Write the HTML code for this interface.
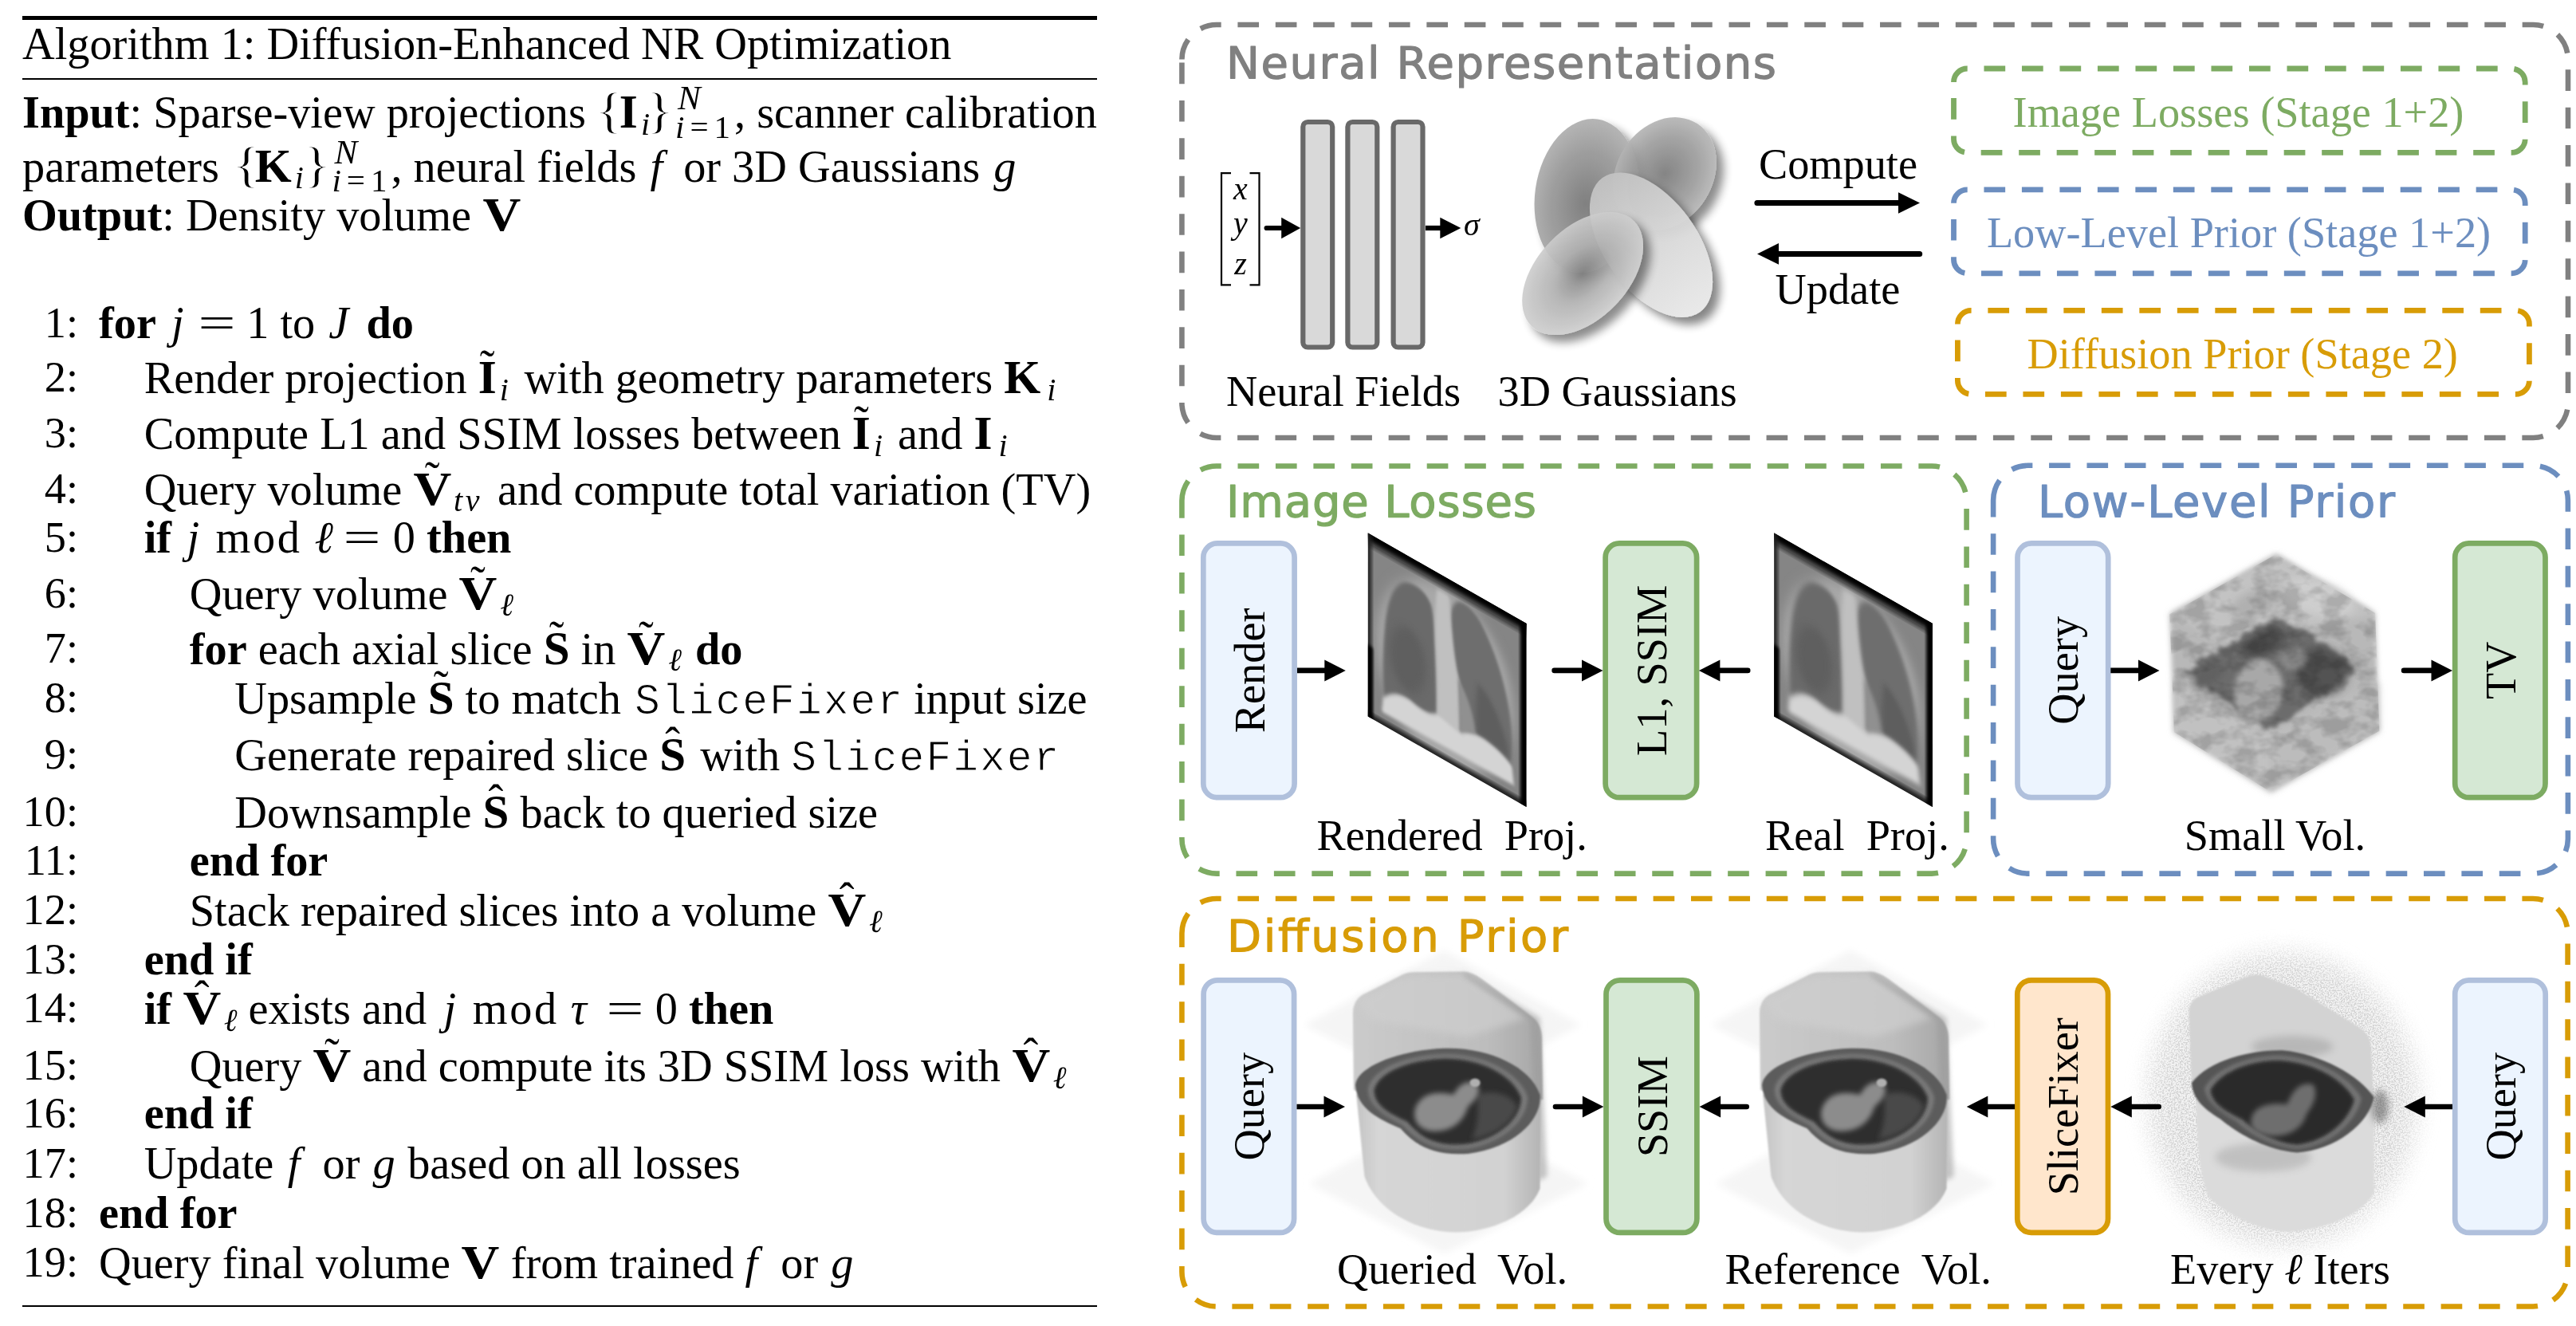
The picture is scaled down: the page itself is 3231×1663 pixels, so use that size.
<!DOCTYPE html>
<html lang="en">
<head>
<meta charset="utf-8">
<title>Algorithm 1: Diffusion-Enhanced NR Optimization</title>
<style>
html,body{margin:0;padding:0;background:#fff;}
body{width:3231px;height:1663px;position:relative;overflow:hidden;font-family:"Liberation Serif",serif;color:#000;}
.rule{position:absolute;left:28px;width:1348px;background:#000;}
.l{position:absolute;left:0;top:calc(var(--b)*1px - 49px);height:60px;line-height:60px;font-size:56.3px;white-space:nowrap;}
.l .n{position:absolute;left:0;width:98px;text-align:right;font-size:54.3px;}
.l .t{position:absolute;left:124px;}
.l .t.i1{left:180.7px;}
.l .t.i2{left:237.8px;}
.l .t.i3{left:294.3px;}
.sb{font-size:40px;position:relative;top:8.5px;font-style:italic;margin-left:4px;}
.br{display:inline-block;font-size:1.12em;transform:scaleX(1.3);transform-origin:37% 62%;margin:0 -1.65px;-webkit-text-stroke:1.5px #fff;}
.br.r{transform-origin:63% 62%;}
.bv{display:inline-block;font-weight:bold;font-size:1.05em;transform:scaleX(1.12);margin:0 2.5px;}
.md{letter-spacing:2.6px;}
.bm{font-weight:bold;font-size:1.05em;}
.eq{display:inline-block;transform:scaleX(1.48);}
.v{font-style:italic;}
#algo{position:absolute;left:0;top:0;width:1400px;height:1663px;filter:grayscale(1);}
.ac{position:relative;display:inline-block;}
.ac .a{position:absolute;left:0;right:0;text-align:center;top:-14px;font-weight:normal;font-style:normal;}
.tt{font-family:"Liberation Mono",monospace;font-size:53px;letter-spacing:2px;-webkit-text-stroke:1px #fff;}
.ss{display:inline-block;position:relative;width:79px;height:60px;vertical-align:top;font-size:41px;}
.ss .u{position:absolute;left:8px;top:-15.7px;font-style:italic;font-size:43px;}
.ss .d{position:absolute;left:5px;top:19.6px;letter-spacing:7px;}
.m{letter-spacing:0;}
#fig{position:absolute;left:0;top:0;}
</style>
</head>
<body>
<div id="algo">
<div class="rule" style="top:20.2px;height:4.5px"></div>
<div class="rule" style="top:97.5px;height:2.7px"></div>
<div class="rule" style="top:1636.8px;height:2.7px"></div>

<div class="l" style="--b:74"><span class="t" style="left:28px">Algorithm 1: Diffusion-Enhanced NR Optimization</span></div>
<div class="l" style="--b:158"><span class="t" style="left:28px"><b>Input</b>: Sparse-view projections <span class="br" style="margin:0 -1.65px 0 -0.65px">{</span><b class="bm">I</b><span class="sb">i</span><span class="br r" style="margin:0 -1.65px 0 -1.65px">}</span><span class="ss"><span class="u">N</span><span class="d"><i>i</i>=1</span></span>, scanner calibration</span></div>
<div class="l" style="--b:225.5"><span class="t" style="left:28px">parameters <span class="br" style="margin:0 -3.15px 0 3.55px">{</span><b class="bm">K</b><span class="sb" style="margin-left:4px;margin-right:3.6px">i</span><span class="br r" style="margin:0 -1.65px 0 -1.65px">}</span><span class="ss"><span class="u">N</span><span class="d"><i>i</i>=1</span></span>, neural fields <span class="v" style="margin:0 12px 0 3px">f</span> or 3D Gaussians <span class="v" style="margin:0 0px 0 3px">g</span></span></div>
<div class="l" style="--b:288"><span class="t" style="left:28px"><b>Output</b>: Density volume <b class="bv">V</b></span></div>
<div class="l" style="--b:424"><span class="n">1:</span><span class="t"><b>for</b> <span class="v" style="margin:0 0px 0 5px">j</span><span class="eq" style="margin:0 21.2px 0 25.7px">=</span>1 to <span class="v" style="margin:0 8px 0 3px">J</span> <b>do</b></span></div>
<div class="l" style="--b:492"><span class="n">2:</span><span class="t i1">Render projection <span class="ac"><b class="bm">I</b><span class="a">˜</span></span><span class="sb" style="margin-left:4px;margin-right:5.6px">i</span> with geometry parameters <b class="bm">K</b><span class="sb" style="margin-left:8px">i</span></span></div>
<div class="l" style="--b:562.4"><span class="n">3:</span><span class="t i1">Compute L1 and SSIM losses between <span class="ac"><b class="bm">I</b><span class="a">˜</span></span><span class="sb" style="margin-left:4px;margin-right:5px">i</span> and <b class="bm">I</b><span class="sb" style="margin-left:8px">i</span></span></div>
<div class="l" style="--b:631.7"><span class="n">4:</span><span class="t i1">Query volume <span class="ac"><b class="bv">V</b><span class="a">˜</span></span><span class="sb" style="margin-left:3px;margin-right:5px;letter-spacing:3.5px">tv</span> and compute total variation (TV)</span></div>
<div class="l" style="--b:693"><span class="n">5:</span><span class="t i1"><b>if</b> <span class="v" style="margin:0 6.4px 0 5.3px">j</span> <span class="md">mod</span> <span class="v" style="margin:0 0px 0 2px">ℓ</span><span class="eq" style="margin:0 22.8px 0 20.3px">=</span>0 <b>then</b></span></div>
<div class="l" style="--b:762.5"><span class="n">6:</span><span class="t i2">Query volume <span class="ac"><b class="bv">V</b><span class="a">˜</span></span><span class="sb" style="margin-left:4px">ℓ</span></span></div>
<div class="l" style="--b:831.8"><span class="n">7:</span><span class="t i2"><b>for</b> each axial slice <span class="ac"><b class="bm">S</b><span class="a">˜</span></span> in <span class="ac"><b class="bv">V</b><span class="a">˜</span></span><span class="sb" style="margin-left:4px;margin-right:3px">ℓ</span> <b>do</b></span></div>
<div class="l" style="--b:893.5"><span class="n">8:</span><span class="t i3">Upsample <span class="ac"><b class="bm">S</b><span class="a">˜</span></span> to match <span class="tt" style="margin:0 -2px 0 3px">SliceFixer</span> input size</span></div>
<div class="l" style="--b:965"><span class="n">9:</span><span class="t i3">Generate repaired slice <span class="ac" style="margin:0 4px 0 0px"><b class="bm">S</b><span class="a">ˆ</span></span> with <span class="tt">SliceFixer</span></span></div>
<div class="l" style="--b:1037"><span class="n">10:</span><span class="t i3">Downsample <span class="ac"><b class="bm">S</b><span class="a">ˆ</span></span> back to queried size</span></div>
<div class="l" style="--b:1098.4"><span class="n">11:</span><span class="t i2"><b>end for</b></span></div>
<div class="l" style="--b:1159.6"><span class="n">12:</span><span class="t i2">Stack repaired slices into a volume <span class="ac"><b class="bv">V</b><span class="a">ˆ</span></span><span class="sb" style="margin-left:4px">ℓ</span></span></div>
<div class="l" style="--b:1221.5"><span class="n">13:</span><span class="t i1"><b>end if</b></span></div>
<div class="l" style="--b:1283"><span class="n">14:</span><span class="t i1"><b>if</b> <span class="ac"><b class="bv">V</b><span class="a">ˆ</span></span><span class="sb" style="margin-left:4px">ℓ</span> exists and <span class="v" style="margin:0 6.5px 0 7.3px">j</span> <span class="md">mod</span> <span class="v" style="margin:0 7px 0 1px">τ</span><span class="eq" style="margin:0 21.7px 0 25.3px">=</span>0 <b>then</b></span></div>
<div class="l" style="--b:1355"><span class="n">15:</span><span class="t i2">Query <span class="ac"><b class="bv">V</b><span class="a">˜</span></span> and compute its 3D SSIM loss with <span class="ac"><b class="bv">V</b><span class="a">ˆ</span></span><span class="sb" style="margin-left:4px">ℓ</span></span></div>
<div class="l" style="--b:1415"><span class="n">16:</span><span class="t i1"><b>end if</b></span></div>
<div class="l" style="--b:1477.8"><span class="n">17:</span><span class="t i1">Update <span class="v" style="margin:0 14.1px 0 3.4px">f</span> or <span class="v" style="margin:0 1.4px 0 2px">g</span> based on all losses</span></div>
<div class="l" style="--b:1540"><span class="n">18:</span><span class="t"><b>end for</b></span></div>
<div class="l" style="--b:1601.7"><span class="n">19:</span><span class="t">Query final volume <b class="bv">V</b> from trained <span class="v" style="margin:0 15px 0 0px">f</span> or <span class="v" style="margin:0 0px 0 2px">g</span></span></div>
</div>

<svg id="fig" width="3231" height="1663" viewBox="0 0 3231 1663" font-family="'Liberation Serif',serif">
<defs>
<filter id="b1" x="-20%" y="-20%" width="140%" height="140%"><feGaussianBlur stdDeviation="1"/></filter>
<filter id="b2" x="-20%" y="-20%" width="140%" height="140%"><feGaussianBlur stdDeviation="2"/></filter>
<filter id="b3" x="-20%" y="-20%" width="140%" height="140%"><feGaussianBlur stdDeviation="3"/></filter>
<filter id="b5" x="-30%" y="-30%" width="160%" height="160%"><feGaussianBlur stdDeviation="5"/></filter>
<filter id="b8" x="-30%" y="-30%" width="160%" height="160%"><feGaussianBlur stdDeviation="8"/></filter>
<filter id="b14" x="-40%" y="-40%" width="180%" height="180%"><feGaussianBlur stdDeviation="14"/></filter>
<filter id="b30" x="-50%" y="-50%" width="200%" height="200%"><feGaussianBlur stdDeviation="30"/></filter>
<filter id="sh" x="-30%" y="-30%" width="170%" height="170%"><feDropShadow dx="9" dy="9" stdDeviation="6" flood-color="#000" flood-opacity="0.5"/></filter>
<radialGradient id="gA" cx="0.5" cy="0.55" r="0.6"><stop offset="0" stop-color="#7b7b7b"/><stop offset="0.55" stop-color="#9a9a9a"/><stop offset="1" stop-color="#b8b8b8"/></radialGradient>
<radialGradient id="gB" cx="0.5" cy="0.5" r="0.6"><stop offset="0" stop-color="#787878"/><stop offset="0.55" stop-color="#9c9c9c"/><stop offset="1" stop-color="#c2c2c2"/></radialGradient>
<linearGradient id="gC" x1="0.5" y1="0" x2="0.5" y2="1"><stop offset="0" stop-color="#c2c2c2"/><stop offset="0.5" stop-color="#d8d8d8"/><stop offset="1" stop-color="#e8e8e8"/></linearGradient>
<radialGradient id="gD" cx="0.5" cy="0.5" r="0.6"><stop offset="0" stop-color="#808080"/><stop offset="0.4" stop-color="#b0b0b0"/><stop offset="1" stop-color="#d8d8d8"/></radialGradient>
<clipPath id="cx"><rect x="0" y="0" width="230" height="230"/></clipPath>
<linearGradient id="gU" x1="0" y1="0" x2="1" y2="0"><stop offset="0" stop-color="#cbcbcb"/><stop offset="0.7" stop-color="#bdbdbd"/><stop offset="1" stop-color="#a6a6a6"/></linearGradient>
<linearGradient id="gL" x1="0" y1="0" x2="1" y2="0"><stop offset="0" stop-color="#c4c4c4"/><stop offset="0.12" stop-color="#d6d6d6"/><stop offset="0.8" stop-color="#d2d2d2"/><stop offset="1" stop-color="#b4b4b4"/></linearGradient>
<filter id="noise" x="-10%" y="-10%" width="120%" height="120%"><feTurbulence type="fractalNoise" baseFrequency="0.55" numOctaves="2" seed="7" result="t"/><feColorMatrix in="t" type="matrix" values="0 0 0 0 0  0 0 0 0 0  0 0 0 0 0  0 0 0 -6 3.35" result="a"/><feGaussianBlur in="SourceAlpha" stdDeviation="16" result="m"/><feComposite in="a" in2="m" operator="in"/></filter>
<filter id="rough" x="-20%" y="-20%" width="140%" height="140%"><feTurbulence type="fractalNoise" baseFrequency="0.09" numOctaves="2" seed="3" result="t"/><feDisplacementMap in="SourceGraphic" in2="t" scale="16" xChannelSelector="R" yChannelSelector="G" result="d"/><feGaussianBlur in="d" stdDeviation="2.5"/></filter>
<filter id="noise2" x="0" y="0" width="100%" height="100%"><feTurbulence type="fractalNoise" baseFrequency="0.035 0.05" numOctaves="3" seed="11" result="t"/><feColorMatrix in="t" type="matrix" values="0 0 0 0 0  0 0 0 0 0  0 0 0 0 0  0 0 0 3.2 -1.25" result="a"/><feComposite in="a" in2="SourceAlpha" operator="in"/></filter>
<filter id="gs" x="-5%" y="-20%" width="110%" height="140%"><feColorMatrix type="saturate" values="0"/></filter>
</defs>

<path d="M1482.4,74.6 A43.6,43.6 0 0 1 1526.0,31.0 H3177.4 A43.6,43.6 0 0 1 3221,74.6 V505.4 A43.6,43.6 0 0 1 3177.4,549 H1526.0 A43.6,43.6 0 0 1 1482.4,505.4 Z" fill="none" stroke="#808080" stroke-width="6.6" stroke-dasharray="26.657 20.733"/>
<text x="1538.0" y="98.0" font-family="'DejaVu Sans','Liberation Sans',sans-serif" font-size="56" fill="#808080" stroke="#808080" stroke-width="1.2" stroke-linejoin="round" textLength="690.0" lengthAdjust="spacing">Neural Representations</text>
<rect x="1634.3" y="153" width="36.9" height="282.5" rx="6" ry="6" fill="#d9d9d9" stroke="#696969" stroke-width="6.2"/>
<rect x="1690.4" y="153" width="36.9" height="282.5" rx="6" ry="6" fill="#d9d9d9" stroke="#696969" stroke-width="6.2"/>
<rect x="1747.6" y="153" width="36.9" height="282.5" rx="6" ry="6" fill="#d9d9d9" stroke="#696969" stroke-width="6.2"/>
<path d="M1544,217.2 H1532 V357.3 H1544 M1567.5,217.2 H1579.5 V357.3 H1567.5" fill="none" stroke="#000" stroke-width="2.2"/>
<text x="1556" y="249.5" font-size="40" font-style="italic" text-anchor="middle" filter="url(#gs)">x</text>
<text x="1556" y="293" font-size="40" font-style="italic" text-anchor="middle" filter="url(#gs)">y</text>
<text x="1556" y="344" font-size="40" font-style="italic" text-anchor="middle" filter="url(#gs)">z</text>
<path d="M1588.6,286.0 H1609.2" stroke="#000" stroke-width="6.2" stroke-linecap="round" fill="none"/>
<path d="M1631.2,286.0 L1607.2,272.7 V299.3 Z" fill="#000"/>
<path d="M1788.0,286.0 H1808.3" stroke="#000" stroke-width="6.2" stroke-linecap="butt" fill="none"/>
<path d="M1832.3,286.0 L1806.3,272.7 V299.3 Z" fill="#000"/>
<text x="1836" y="294.5" font-size="40" font-style="italic" filter="url(#gs)">σ</text>
<text x="1538.0" y="509.0" font-size="54.3" text-anchor="start" fill="#000" style="white-space:pre" >Neural Fields</text>
<text x="1878.5" y="509.0" font-size="54.3" text-anchor="start" fill="#000" style="white-space:pre" >3D Gaussians</text>
<g filter="url(#sh)" opacity="0.96"><ellipse cx="0" cy="0" rx="65" ry="97" fill="url(#gA)" transform="translate(1990.3,245.6) rotate(8)"/></g>
<g filter="url(#sh)" opacity="0.9"><ellipse cx="0" cy="0" rx="60" ry="75" fill="url(#gB)" transform="translate(2088,218) rotate(33)"/></g>
<g filter="url(#sh)" opacity="0.95"><ellipse cx="0" cy="0" rx="58" ry="104" fill="url(#gC)" transform="translate(2071,307.2) rotate(-36)"/></g>
<g filter="url(#sh)" opacity="0.9"><ellipse cx="0" cy="0" rx="57" ry="92" fill="url(#gD)" transform="translate(1985.1,343) rotate(44)"/></g>

<text x="2305.5" y="224.3" font-size="54.3" text-anchor="middle" fill="#000" style="white-space:pre" >Compute</text>
<path d="M2203.9,254.5 H2383.0" stroke="#000" stroke-width="7" stroke-linecap="round" fill="none"/>
<path d="M2408.0,254.5 L2381.0,241.2 V267.8 Z" fill="#000"/>
<path d="M2407.7,318.4 H2229.0" stroke="#000" stroke-width="7" stroke-linecap="round" fill="none"/>
<path d="M2204.0,318.4 L2231.0,305.1 V331.7 Z" fill="#000"/>
<text x="2305.0" y="381.2" font-size="54.3" text-anchor="middle" fill="#000" style="white-space:pre" >Update</text>
<path d="M2450.5,103 A17,17 0 0 1 2467.5,86 H3150.2 A17,17 0 0 1 3167.2,103 V174.4 A17,17 0 0 1 3150.2,191.4 H2467.5 A17,17 0 0 1 2450.5,174.4 Z" fill="none" stroke="#7dab62" stroke-width="6.8" stroke-dasharray="26.719 20.781"/>
<path d="M2450.5,254.8 A17,17 0 0 1 2467.5,237.8 H3150.2 A17,17 0 0 1 3167.2,254.8 V325.8 A17,17 0 0 1 3150.2,342.8 H2467.5 A17,17 0 0 1 2450.5,325.8 Z" fill="none" stroke="#6c8ebf" stroke-width="6.8" stroke-dasharray="26.706 20.771"/>
<path d="M2455.4,406.4 A17,17 0 0 1 2472.4,389.4 H3155.4 A17,17 0 0 1 3172.4,406.4 V477.4 A17,17 0 0 1 3155.4,494.4 H2472.4 A17,17 0 0 1 2455.4,477.4 Z" fill="none" stroke="#d89c06" stroke-width="6.8" stroke-dasharray="26.716 20.779"/>
<text x="2807.5" y="158.6" font-size="54.3" text-anchor="middle" fill="#7dab62" style="white-space:pre" >Image Losses (Stage 1+2)</text>
<text x="2808.0" y="309.8" font-size="54.3" text-anchor="middle" fill="#6c8ebf" style="white-space:pre" >Low-Level Prior (Stage 1+2)</text>
<text x="2812.7" y="461.5" font-size="54.3" text-anchor="middle" fill="#d89c06" style="white-space:pre" >Diffusion Prior (Stage 2)</text>
<path d="M1482.4,628.1 A43.6,43.6 0 0 1 1526.0,584.5 H2423.0 A43.6,43.6 0 0 1 2466.6,628.1 V1052.0 A43.6,43.6 0 0 1 2423.0,1095.6 H1526.0 A43.6,43.6 0 0 1 1482.4,1052.0 Z" fill="none" stroke="#7dab62" stroke-width="6.6" stroke-dasharray="26.684 20.754"/>
<text x="1538.0" y="647.8" font-family="'DejaVu Sans','Liberation Sans',sans-serif" font-size="56" fill="#7dab62" stroke="#7dab62" stroke-width="1.2" stroke-linejoin="round" textLength="389.0" lengthAdjust="spacing">Image Losses</text>
<rect x="1509.3" y="681.4" width="114.3" height="318.8" rx="17.5" ry="17.5" fill="#ecf4fe" stroke="#b0c0dc" stroke-width="6.7"/>
<text transform="translate(1585.5,840.8) rotate(-90)" text-anchor="middle" font-size="54.3">Render</text>
<rect x="2013.6" y="681.4" width="114.5" height="318.8" rx="17.5" ry="17.5" fill="#d5e8d4" stroke="#7dab62" stroke-width="6.7"/>
<text transform="translate(2089.9,840.8) rotate(-90)" text-anchor="middle" font-size="54.3">L1, SSIM</text>
<path d="M1627.0,840.9 H1663.3" stroke="#000" stroke-width="6.6" stroke-linecap="butt" fill="none"/>
<path d="M1687.8,840.9 L1661.3,827.4 V854.4 Z" fill="#000"/>
<path d="M1949.6,840.9 H1986.0" stroke="#000" stroke-width="6.6" stroke-linecap="round" fill="none"/>
<path d="M2010.5,840.9 L1984.0,827.4 V854.4 Z" fill="#000"/>
<path d="M2192.2,840.9 H2155.4" stroke="#000" stroke-width="6.6" stroke-linecap="round" fill="none"/>
<path d="M2130.9,840.9 L2157.4,827.4 V854.4 Z" fill="#000"/>
<g transform="matrix(0.864 0.4926 0 1 1715.8 668.6)"><g clip-path="url(#cx)">
<rect x="0" y="0" width="230" height="230" fill="#858585"/>
<ellipse cx="112" cy="125" rx="100" ry="112" fill="#a8a8a8" filter="url(#b8)"/>
<path d="M60,33 C44,36 30,58 25,100 C21,140 21,176 24,193 C36,180 52,176 66,180 C82,184 92,182 100,176 C101,150 99,120 98,100 C97,76 96,60 92,46 C86,33 72,30 60,33 Z" fill="#6a6a6a" filter="url(#b2)"/>
<path d="M132,21 C122,26 119,40 120,60 C121,84 126,104 132,118 C135,140 134,166 133,183 C146,176 160,172 174,175 C190,178 200,182 207,186 C211,170 210,140 203,112 C196,84 184,56 164,32 C152,20 140,18 132,21 Z" fill="#6e6e6e" filter="url(#b2)"/>
<ellipse cx="58" cy="130" rx="26" ry="40" fill="#5c5c5c" opacity="0.7" filter="url(#b5)"/>
<path d="M160,110 C175,116 192,136 202,166 C204,174 205,180 205,183 C190,176 172,173 158,175 C156,150 156,130 160,110 Z" fill="#585858" opacity="0.7" filter="url(#b3)"/>
<path d="M100,22 C104,20 112,20 118,22 C120,50 124,90 131,120 C134,150 134,180 134,206 L100,206 C101,170 100,120 98,90 C97,60 98,40 100,22 Z" fill="#c0c0c0" filter="url(#b2)"/>
<path d="M131,118 C142,130 154,150 156,176 L133,184 Z" fill="#909090" filter="url(#b2)"/>
<path d="M22,196 C36,182 52,178 66,182 C82,186 92,184 101,178 L134,186 C146,178 160,174 174,177 C190,180 200,184 209,190 L212,212 L20,214 Z" fill="#d4d4d4" filter="url(#b2)"/>
<rect x="-6" y="-8" width="242" height="20" fill="#0c0c0c" filter="url(#b5)"/>
<rect x="-6" y="-6" width="242" height="11" fill="#000" filter="url(#b2)"/>
<rect x="-6" y="224" width="242" height="12" fill="#1a1a1a" filter="url(#b3)"/>
<rect x="-6" y="-6" width="11" height="242" fill="#1a1a1a" filter="url(#b3)"/>
<rect x="-4" y="140" width="11" height="100" fill="#000" filter="url(#b2)"/>
<rect x="221" y="-6" width="14" height="242" fill="#000" filter="url(#b2)"/>
</g></g>
<g transform="matrix(0.864 0.4926 0 1 2225.2 668.6)"><g clip-path="url(#cx)">
<rect x="0" y="0" width="230" height="230" fill="#858585"/>
<ellipse cx="112" cy="125" rx="100" ry="112" fill="#a8a8a8" filter="url(#b8)"/>
<path d="M60,33 C44,36 30,58 25,100 C21,140 21,176 24,193 C36,180 52,176 66,180 C82,184 92,182 100,176 C101,150 99,120 98,100 C97,76 96,60 92,46 C86,33 72,30 60,33 Z" fill="#6a6a6a" filter="url(#b3)"/>
<path d="M132,21 C122,26 119,40 120,60 C121,84 126,104 132,118 C135,140 134,166 133,183 C146,176 160,172 174,175 C190,178 200,182 207,186 C211,170 210,140 203,112 C196,84 184,56 164,32 C152,20 140,18 132,21 Z" fill="#6e6e6e" filter="url(#b3)"/>
<ellipse cx="58" cy="130" rx="26" ry="40" fill="#5c5c5c" opacity="0.7" filter="url(#b5)"/>
<path d="M160,110 C175,116 192,136 202,166 C204,174 205,180 205,183 C190,176 172,173 158,175 C156,150 156,130 160,110 Z" fill="#585858" opacity="0.7" filter="url(#b3)"/>
<path d="M100,22 C104,20 112,20 118,22 C120,50 124,90 131,120 C134,150 134,180 134,206 L100,206 C101,170 100,120 98,90 C97,60 98,40 100,22 Z" fill="#c0c0c0" filter="url(#b3)"/>
<path d="M131,118 C142,130 154,150 156,176 L133,184 Z" fill="#909090" filter="url(#b3)"/>
<path d="M22,196 C36,182 52,178 66,182 C82,186 92,184 101,178 L134,186 C146,178 160,174 174,177 C190,180 200,184 209,190 L212,212 L20,214 Z" fill="#d4d4d4" filter="url(#b3)"/>
<rect x="-6" y="-8" width="242" height="20" fill="#0c0c0c" filter="url(#b5)"/>
<rect x="-6" y="-6" width="242" height="11" fill="#000" filter="url(#b2)"/>
<rect x="-6" y="224" width="242" height="12" fill="#1a1a1a" filter="url(#b3)"/>
<rect x="-6" y="-6" width="11" height="242" fill="#1a1a1a" filter="url(#b3)"/>
<rect x="-4" y="140" width="11" height="100" fill="#000" filter="url(#b2)"/>
<rect x="221" y="-6" width="14" height="242" fill="#000" filter="url(#b2)"/>
</g></g>

<text x="1651.5" y="1065.6" font-size="54.3" text-anchor="start" fill="#000" style="white-space:pre" >Rendered  Proj.</text>
<text x="2214.0" y="1065.6" font-size="54.3" text-anchor="start" fill="#000" style="white-space:pre" >Real  Proj.</text>
<path d="M2500.1,627.4 A43.6,43.6 0 0 1 2543.7,583.8 H3177.3 A43.6,43.6 0 0 1 3220.9,627.4 V1052.0 A43.6,43.6 0 0 1 3177.3,1095.6 H2543.7 A43.6,43.6 0 0 1 2500.1,1052.0 Z" fill="none" stroke="#6c8ebf" stroke-width="6.6" stroke-dasharray="26.650 20.728"/>
<text x="2556.0" y="647.8" font-family="'DejaVu Sans','Liberation Sans',sans-serif" font-size="56" fill="#6c8ebf" stroke="#6c8ebf" stroke-width="1.2" stroke-linejoin="round" textLength="448.0" lengthAdjust="spacing">Low-Level Prior</text>
<rect x="2530.5" y="681.4" width="113.7" height="318.8" rx="17.5" ry="17.5" fill="#ecf4fe" stroke="#b0c0dc" stroke-width="6.7"/>
<text transform="translate(2606.4,840.8) rotate(-90)" text-anchor="middle" font-size="54.3">Query</text>
<rect x="3079.2" y="681.4" width="113.3" height="318.8" rx="17.5" ry="17.5" fill="#d5e8d4" stroke="#7dab62" stroke-width="6.7"/>
<text transform="translate(3154.8,840.8) rotate(-90)" text-anchor="middle" font-size="54.3">TV</text>
<path d="M2647.3,840.9 H2684.0" stroke="#000" stroke-width="6.6" stroke-linecap="butt" fill="none"/>
<path d="M2708.5,840.9 L2682.0,827.4 V854.4 Z" fill="#000"/>
<path d="M3015.1,840.9 H3051.5" stroke="#000" stroke-width="6.6" stroke-linecap="round" fill="none"/>
<path d="M3076.0,840.9 L3049.5,827.4 V854.4 Z" fill="#000"/>
<g>
<polygon points="2855.0,695.1 2979.1,769.0 2984.4,916.8 2848.4,993.4 2727.0,918.2 2721.2,770.3" fill="#b8b8b8" filter="url(#b3)"/>
<polygon points="2855.0,696.4 2977.8,769.8 2890.6,788.8 2853.7,775.6 2795.6,807.3 2722.2,770.8" fill="#c3c3c3" filter="url(#b5)"/>
<ellipse cx="2906.5" cy="749.2" rx="47.5" ry="21.1" fill="#d2d2d2" transform="rotate(15 2906.5 749.2)" filter="url(#b5)" opacity="0.75"/>
<ellipse cx="2827.3" cy="757.1" rx="31.7" ry="15.8" fill="#a9a9a9" transform="rotate(-25 2827.3 757.1)" filter="url(#b5)" opacity="0.7"/>
<polygon points="2727.0,854.8 2848.4,918.2 2848.4,993.4 2727.0,918.2" fill="#c6c6c6" filter="url(#b5)" opacity="0.7"/>
<polygon points="2848.4,918.2 2984.4,854.8 2984.4,916.8 2848.4,993.4" fill="#c0c0c0" filter="url(#b5)" opacity="0.6"/>
<polygon points="2740.2,844.2 2795.6,807.3 2853.7,775.6 2890.6,788.8 2956.6,839.0 2898.6,881.2 2848.4,916.8" fill="#6c6c6c" filter="url(#rough)"/>
<ellipse cx="2837.8" cy="807.3" rx="31.7" ry="14.5" fill="#4a4a4a" transform="rotate(-25 2837.8 807.3)" filter="url(#b5)" opacity="0.8"/>
<ellipse cx="2911.8" cy="841.6" rx="34.3" ry="30.4" fill="#4e4e4e" transform="rotate(20 2911.8 841.6)" filter="url(#b5)" opacity="0.8"/>
<ellipse cx="2769.2" cy="846.9" rx="23.8" ry="11.9" fill="#5a5a5a" transform="rotate(-30 2769.2 846.9)" filter="url(#b5)" opacity="0.6"/>
<ellipse cx="2832.6" cy="865.4" rx="30.4" ry="39.6" fill="#a8a8a8" transform="rotate(10 2832.6 865.4)" filter="url(#b3)" opacity="1"/>
<ellipse cx="2874.8" cy="825.8" rx="18.5" ry="14.5" fill="#8c8c8c" filter="url(#b3)" opacity="0.9"/>
<polygon points="2855.0,695.1 2979.1,769.0 2984.4,916.8 2848.4,993.4 2727.0,918.2 2721.2,770.3" fill="#000" filter="url(#noise2)" opacity="0.16"/>
</g>

<text x="2853.5" y="1065.6" font-size="54.3" text-anchor="middle" fill="#000" style="white-space:pre" >Small Vol.</text>
<path d="M1482.4,1170.6 A43.6,43.6 0 0 1 1526.0,1127.0 H3177.0 A43.6,43.6 0 0 1 3220.6,1170.6 V1594.9 A43.6,43.6 0 0 1 3177.0,1638.5 H1526.0 A43.6,43.6 0 0 1 1482.4,1594.9 Z" fill="none" stroke="#d89c06" stroke-width="6.6" stroke-dasharray="26.653 20.730"/>
<text x="1539.0" y="1192.6" font-family="'DejaVu Sans','Liberation Sans',sans-serif" font-size="56" fill="#d89c06" stroke="#d89c06" stroke-width="1.2" stroke-linejoin="round" textLength="428.0" lengthAdjust="spacing">Diffusion Prior</text>
<g>
<path d="M1636.0 1285.5 L1810.9 1192.1 L1982.8 1285.5 L1810.9 1373.0 Z" fill="#f5f5f5" filter="url(#b5)"/>
<path d="M1642.1 1484.6 L1810.9 1391.1 L1991.9 1484.6 L1810.9 1572.0 Z" fill="#f5f5f5" filter="url(#b5)"/>
<path d="M1697.9 1367.0 L1696.9 1270.5 Q1696.9 1255.4 1708.4 1247.9 L1759.7 1222.2 Q1765.7 1219.2 1774.8 1219.2 L1835.1 1218.6 Q1847.1 1219.2 1859.2 1228.3 L1919.5 1273.5 Q1933.1 1282.5 1934.0 1300.6 L1935.2 1379.0 L1810.9 1397.1 Z" fill="url(#gU)" filter="url(#b1)"/>
<path d="M1702.4 1255.4 L1762.7 1223.7 L1838.1 1222.2 L1913.5 1276.5 L1841.1 1300.6 L1720.5 1279.5 Z" fill="#cfcfcf" filter="url(#b5)" opacity="0.7"/>
<path d="M1835.1 1218.6 L1931.6 1276.5 L1940.6 1475.5 L1928.6 1481.6 L1919.5 1279.5 L1838.1 1225.2 Z" fill="#9a9a9a" filter="url(#b3)" opacity="0.55"/>
<path d="M1701.2 1373.0 L1811.0 1360.9 L1932.5 1379.0 L1931.6 1490.6 C1919.5 1523.8 1871.3 1544.9 1826.0 1545.5 C1774.8 1544.9 1726.5 1517.8 1711.5 1475.5 Z" fill="url(#gL)" filter="url(#b1)"/>
<path d="M1700.0 1360.9 C1702.4 1336.8 1756.7 1317.2 1810.9 1314.8 C1865.2 1312.7 1919.5 1336.8 1931.6 1373.0 C1934.6 1403.2 1901.4 1439.3 1841.1 1446.9 C1798.9 1449.9 1774.8 1436.3 1756.7 1415.2 C1729.5 1403.2 1702.4 1391.1 1700.0 1360.9 Z" fill="#5c5c5c" filter="url(#b1)"/>
<path d="M1715.9 1365.5 C1722.0 1339.8 1762.7 1324.1 1810.9 1322.3 C1862.2 1321.1 1905.9 1345.9 1915.9 1375.4 C1916.5 1404.7 1884.8 1433.9 1838.7 1440.6 C1798.9 1443.6 1777.8 1430.9 1759.7 1410.7 C1738.6 1400.1 1715.9 1388.1 1715.9 1365.5 Z" fill="#7a7a7a" filter="url(#b2)"/>
<path d="M1723.5 1367.0 C1729.5 1344.4 1767.2 1329.3 1810.9 1327.8 C1857.7 1326.6 1898.4 1349.5 1908.0 1376.6 C1908.0 1402.6 1878.8 1429.1 1838.1 1435.1 C1800.4 1438.1 1782.3 1426.7 1765.1 1406.8 C1744.0 1397.1 1723.5 1387.5 1723.5 1367.0 Z" fill="#2e2e2e" filter="url(#b2)"/>
<path d="M1853.2 1373.0 C1871.3 1365.5 1896.9 1373.0 1902.9 1388.1 C1896.9 1409.2 1872.8 1424.9 1845.6 1429.1 C1854.7 1410.7 1854.7 1391.1 1853.2 1373.0 Z" fill="#484848" filter="url(#b3)"/>
<path d="M1774.8 1391.1 C1780.8 1373.0 1798.9 1367.0 1823.0 1373.0 C1829.0 1360.9 1841.1 1351.9 1853.2 1360.9 C1859.2 1373.0 1847.1 1382.1 1841.1 1388.1 C1835.1 1409.2 1817.0 1421.3 1792.8 1418.2 C1777.8 1415.2 1771.7 1403.2 1774.8 1391.1 Z" fill="#8c8c8c" filter="url(#b3)"/>
<ellipse cx="1850.1" cy="1357.9" rx="6.6" ry="5.4" fill="#b0b0b0" filter="url(#b1)"/>
</g>
<g>
<path d="M2146.0 1285.5 L2320.9 1192.1 L2492.8 1285.5 L2320.9 1373.0 Z" fill="#f5f5f5" filter="url(#b5)"/>
<path d="M2152.1 1484.6 L2320.9 1391.1 L2501.9 1484.6 L2320.9 1572.0 Z" fill="#f5f5f5" filter="url(#b5)"/>
<path d="M2207.9 1367.0 L2206.9 1270.5 Q2206.9 1255.4 2218.4 1247.9 L2269.7 1222.2 Q2275.7 1219.2 2284.8 1219.2 L2345.1 1218.6 Q2357.1 1219.2 2369.2 1228.3 L2429.5 1273.5 Q2443.1 1282.5 2444.0 1300.6 L2445.2 1379.0 L2320.9 1397.1 Z" fill="url(#gU)" filter="url(#b1)"/>
<path d="M2212.4 1255.4 L2272.7 1223.7 L2348.1 1222.2 L2423.5 1276.5 L2351.1 1300.6 L2230.5 1279.5 Z" fill="#cfcfcf" filter="url(#b5)" opacity="0.7"/>
<path d="M2345.1 1218.6 L2441.6 1276.5 L2450.6 1475.5 L2438.6 1481.6 L2429.5 1279.5 L2348.1 1225.2 Z" fill="#9a9a9a" filter="url(#b3)" opacity="0.55"/>
<path d="M2211.2 1373.0 L2321.0 1360.9 L2442.5 1379.0 L2441.6 1490.6 C2429.5 1523.8 2381.3 1544.9 2336.0 1545.5 C2284.8 1544.9 2236.5 1517.8 2221.5 1475.5 Z" fill="url(#gL)" filter="url(#b1)"/>
<path d="M2210.0 1360.9 C2212.4 1336.8 2266.7 1317.2 2320.9 1314.8 C2375.2 1312.7 2429.5 1336.8 2441.6 1373.0 C2444.6 1403.2 2411.4 1439.3 2351.1 1446.9 C2308.9 1449.9 2284.8 1436.3 2266.7 1415.2 C2239.5 1403.2 2212.4 1391.1 2210.0 1360.9 Z" fill="#5c5c5c" filter="url(#b1)"/>
<path d="M2225.9 1365.5 C2232.0 1339.8 2272.7 1324.1 2320.9 1322.3 C2372.2 1321.1 2415.9 1345.9 2425.9 1375.4 C2426.5 1404.7 2394.8 1433.9 2348.7 1440.6 C2308.9 1443.6 2287.8 1430.9 2269.7 1410.7 C2248.6 1400.1 2225.9 1388.1 2225.9 1365.5 Z" fill="#7a7a7a" filter="url(#b2)"/>
<path d="M2233.5 1367.0 C2239.5 1344.4 2277.2 1329.3 2320.9 1327.8 C2367.7 1326.6 2408.4 1349.5 2418.0 1376.6 C2418.0 1402.6 2388.8 1429.1 2348.1 1435.1 C2310.4 1438.1 2292.3 1426.7 2275.1 1406.8 C2254.0 1397.1 2233.5 1387.5 2233.5 1367.0 Z" fill="#2e2e2e" filter="url(#b2)"/>
<path d="M2363.2 1373.0 C2381.3 1365.5 2406.9 1373.0 2412.9 1388.1 C2406.9 1409.2 2382.8 1424.9 2355.6 1429.1 C2364.7 1410.7 2364.7 1391.1 2363.2 1373.0 Z" fill="#484848" filter="url(#b3)"/>
<path d="M2284.8 1391.1 C2290.8 1373.0 2308.9 1367.0 2333.0 1373.0 C2339.0 1360.9 2351.1 1351.9 2363.2 1360.9 C2369.2 1373.0 2357.1 1382.1 2351.1 1388.1 C2345.1 1409.2 2327.0 1421.3 2302.8 1418.2 C2287.8 1415.2 2281.7 1403.2 2284.8 1391.1 Z" fill="#8c8c8c" filter="url(#b3)"/>
<ellipse cx="2360.1" cy="1357.9" rx="6.6" ry="5.4" fill="#b0b0b0" filter="url(#b1)"/>
</g>
<g>
<ellipse cx="2863.0" cy="1379.0" rx="168.9" ry="184.0" fill="#eeeeee" filter="url(#b14)" opacity="0.75"/>
<ellipse cx="2863.0" cy="1379.0" rx="168.9" ry="184.0" fill="#000" filter="url(#noise)" opacity="0.12"/>
<path d="M2749.0 1364.0 L2745.4 1270.5 Q2745.4 1255.4 2757.5 1250.0 L2820.8 1223.7 Q2829.8 1220.7 2838.9 1223.7 L2881.1 1240.3 L2959.5 1288.6 Q2973.1 1297.6 2974.0 1312.7 L2977.0 1379.0 L2863.0 1397.1 Z" fill="#d3d3d3" filter="url(#b1)"/>
<path d="M2754.4 1379.0 L2863.0 1367.0 L2977.6 1385.1 L2977.6 1496.6 C2959.5 1526.8 2911.3 1543.4 2866.0 1544.9 C2826.8 1541.9 2784.6 1517.8 2769.5 1499.7 C2760.5 1475.5 2755.9 1451.4 2754.4 1379.0 Z" fill="#dbdbdb" filter="url(#b1)"/>
<ellipse cx="2875.1" cy="1312.7" rx="51.3" ry="13.6" fill="#666" filter="url(#b5)" opacity="0.25"/>
<ellipse cx="2838.9" cy="1451.4" rx="60.3" ry="18.1" fill="#666" filter="url(#b5)" opacity="0.22"/>
<ellipse cx="2985.1" cy="1388.1" rx="10.6" ry="21.1" fill="#444" filter="url(#b5)" opacity="0.5"/>
<path d="M2749.0 1357.9 C2769.5 1330.8 2820.8 1316.3 2863.0 1317.2 C2911.3 1321.7 2959.5 1348.9 2977.6 1376.0 C2971.6 1409.2 2929.3 1442.4 2881.1 1445.4 C2838.9 1442.4 2802.7 1418.2 2784.6 1403.2 C2760.5 1388.1 2749.9 1376.0 2749.0 1357.9 Z" fill="#555" filter="url(#b1)"/>
<path d="M2765.0 1364.6 C2780.1 1338.3 2820.8 1324.1 2859.4 1324.1 C2908.2 1326.6 2949.0 1352.5 2961.9 1377.5 C2955.0 1407.7 2922.7 1436.9 2881.1 1440.6 C2847.9 1437.5 2820.8 1421.3 2805.7 1406.8 C2786.1 1395.9 2767.1 1382.7 2765.0 1364.6 Z" fill="#747474" filter="url(#b2)"/>
<path d="M2772.5 1367.0 C2786.1 1343.4 2822.3 1329.9 2857.6 1329.9 C2904.6 1331.7 2940.8 1355.5 2952.9 1379.0 C2946.8 1405.6 2917.3 1432.1 2881.1 1435.7 C2851.5 1432.7 2827.4 1417.6 2812.9 1404.4 C2791.8 1394.1 2774.3 1384.5 2772.5 1367.0 Z" fill="#2c2c2c" filter="url(#b2)"/>
<path d="M2823.8 1403.2 C2826.8 1388.1 2844.9 1382.1 2869.0 1385.1 C2875.1 1367.0 2887.1 1354.9 2902.2 1360.9 C2908.2 1376.0 2899.2 1388.1 2893.2 1397.1 C2887.1 1418.2 2866.0 1427.3 2844.9 1424.3 C2829.8 1421.3 2820.8 1415.2 2823.8 1403.2 Z" fill="#6e6e6e" filter="url(#b3)"/>
</g>

<rect x="1509.6" y="1229.3" width="113.5" height="316.6" rx="17.5" ry="17.5" fill="#ecf4fe" stroke="#b0c0dc" stroke-width="6.7"/>
<text transform="translate(1585.4,1387.7) rotate(-90)" text-anchor="middle" font-size="54.3">Query</text>
<rect x="2014.5" y="1229.3" width="113.9" height="316.6" rx="17.5" ry="17.5" fill="#d5e8d4" stroke="#7dab62" stroke-width="6.7"/>
<text transform="translate(2090.5,1387.7) rotate(-90)" text-anchor="middle" font-size="54.3">SSIM</text>
<rect x="2530.3" y="1229.3" width="113.7" height="316.6" rx="17.5" ry="17.5" fill="#ffe6cc" stroke="#d89c06" stroke-width="6.7"/>
<text transform="translate(2606.2,1387.7) rotate(-90)" text-anchor="middle" font-size="54.3">SliceFixer</text>
<rect x="3079.2" y="1229.3" width="113.5" height="316.6" rx="17.5" ry="17.5" fill="#ecf4fe" stroke="#b0c0dc" stroke-width="6.7"/>
<text transform="translate(3154.9,1387.7) rotate(-90)" text-anchor="middle" font-size="54.3">Query</text>
<path d="M1626.5,1388.0 H1662.5" stroke="#000" stroke-width="6.6" stroke-linecap="butt" fill="none"/>
<path d="M1687.0,1388.0 L1660.5,1374.5 V1401.5 Z" fill="#000"/>
<path d="M1951.0,1388.0 H1986.9" stroke="#000" stroke-width="6.6" stroke-linecap="round" fill="none"/>
<path d="M2011.4,1388.0 L1984.9,1374.5 V1401.5 Z" fill="#000"/>
<path d="M2190.7,1388.0 H2156.1" stroke="#000" stroke-width="6.6" stroke-linecap="round" fill="none"/>
<path d="M2131.6,1388.0 L2158.1,1374.5 V1401.5 Z" fill="#000"/>
<path d="M2527.1,1388.0 H2491.3" stroke="#000" stroke-width="6.6" stroke-linecap="butt" fill="none"/>
<path d="M2466.8,1388.0 L2493.3,1374.5 V1401.5 Z" fill="#000"/>
<path d="M2707.7,1388.0 H2671.8" stroke="#000" stroke-width="6.6" stroke-linecap="round" fill="none"/>
<path d="M2647.3,1388.0 L2673.8,1374.5 V1401.5 Z" fill="#000"/>
<path d="M3076.0,1388.0 H3039.8" stroke="#000" stroke-width="6.6" stroke-linecap="butt" fill="none"/>
<path d="M3015.3,1388.0 L3041.8,1374.5 V1401.5 Z" fill="#000"/>
<text x="1677.0" y="1609.6" font-size="54.3" text-anchor="start" fill="#000" style="white-space:pre" >Queried  Vol.</text>
<text x="2163.5" y="1609.6" font-size="54.3" text-anchor="start" fill="#000" style="white-space:pre" >Reference  Vol.</text>
<text x="2722.0" y="1609.6" font-size="54.3" text-anchor="start" fill="#000" style="white-space:pre" filter="url(#gs)">Every <tspan font-style="italic">ℓ</tspan> Iters</text>
</svg>
</body>
</html>
